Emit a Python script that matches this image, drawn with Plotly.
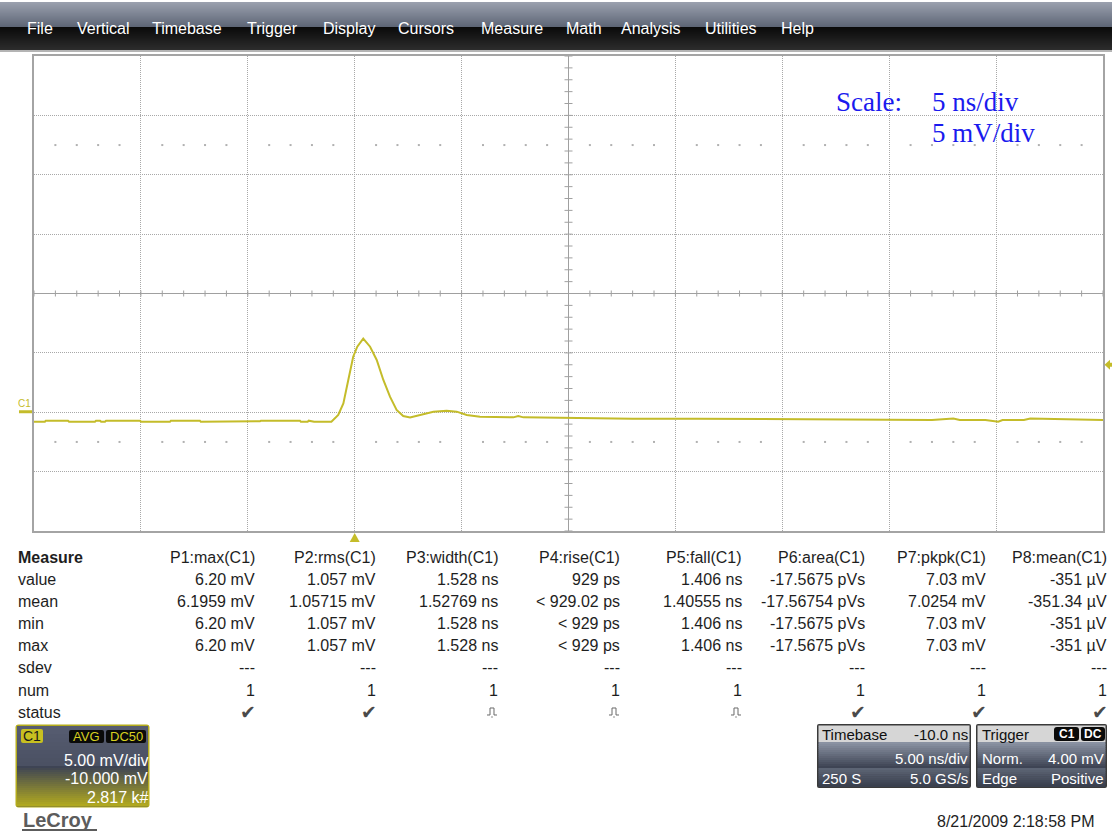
import plotly.graph_objects as go

# ---------------- waveform data (time in ns relative to trigger, amplitude in mV) ----------------
time_ns = [-15.0, -14.49, -14.45, -13.41, -13.36, -12.15, -12.10, -11.91, -11.86, -11.68, -11.63,
           -10.04, -9.99, -8.64, -8.60, -7.24, -7.20, -5.83, -5.79, -4.43, -4.39, -2.56, -2.52,
           -2.20, -2.15, -1.90, -1.50, -1.09, -0.77, -0.53, -0.30, -0.07, 0.12, 0.40, 0.72,
           1.03, 1.34, 1.65, 1.96, 2.27, 2.59, 3.05, 3.68, 4.30, 4.77, 5.24, 5.86, 7.42, 7.65,
           7.89, 10.54, 13.0, 16.0, 19.0, 22.0, 25.0, 27.0, 28.0, 28.3, 29.5, 30.1, 30.3,
           31.3, 31.6, 34.0, 35.0]
volt_mv = [-0.80, -0.80, -0.71, -0.71, -0.80, -0.80, -0.71, -0.71, -0.80, -0.80, -0.71,
           -0.71, -0.80, -0.80, -0.71, -0.71, -0.80, -0.80, -0.76, -0.76, -0.71, -0.71, -0.80,
           -0.80, -0.71, -0.80, -0.80, -0.80, -0.23, 0.75, 2.72, 4.68, 5.52, 6.20, 5.52,
           4.40, 2.72, 1.31, 0.19, -0.32, -0.43, -0.23, 0.05, 0.13, 0.05, -0.23, -0.37, -0.43, -0.32,
           -0.43, -0.51, -0.55, -0.55, -0.58, -0.60, -0.62, -0.65, -0.52, -0.65, -0.65, -0.80,
           -0.65, -0.65, -0.52, -0.65, -0.65]

# ---------------- screen scales ----------------
ns_per_div = 5.0
mv_per_div = 5.0
x_range = [-15.0, 35.0]      # 10 divisions
y_range = [-10.0, 30.0]      # 8 divisions, 0 V two divisions below centre
trigger_level_mv = 4.0

# ---------------- menu / table / status text ----------------
menu_items = ["File", "Vertical", "Timebase", "Trigger", "Display", "Cursors", "Measure",
              "Math", "Analysis", "Utilities", "Help"]
menu_x = [25, 75, 150, 245, 321, 396, 479, 564, 619, 703, 779]

measure_names = ["P1:max(C1)", "P2:rms(C1)", "P3:width(C1)", "P4:rise(C1)", "P5:fall(C1)",
                 "P6:area(C1)", "P7:pkpk(C1)", "P8:mean(C1)"]
row_names = ["value", "mean", "min", "max", "sdev", "num", "status"]
meas_value = ["6.20 mV", "1.057 mV", "1.528 ns", "929 ps", "1.406 ns", "-17.5675 pVs", "7.03 mV", "-351 µV"]
meas_mean = ["6.1959 mV", "1.05715 mV", "1.52769 ns", "< 929.02 ps", "1.40555 ns", "-17.56754 pVs",
             "7.0254 mV", "-351.34 µV"]
meas_min = ["6.20 mV", "1.057 mV", "1.528 ns", "< 929 ps", "1.406 ns", "-17.5675 pVs", "7.03 mV", "-351 µV"]
meas_max = ["6.20 mV", "1.057 mV", "1.528 ns", "< 929 ps", "1.406 ns", "-17.5675 pVs", "7.03 mV", "-351 µV"]
meas_sdev = ["---"] * 8
meas_num = ["1"] * 8
meas_status = ["ok", "ok", "pulse", "pulse", "pulse", "ok", "ok", "ok"]

scale_lines = ["Scale:", "5 ns/div", "5 mV/div"]
date_text = "8/21/2009 2:18:58 PM"

W, H = 1112, 834
TRACE = "#c4bc2a"
GRID = "#a8a8a8"
AXIS = "#a0a0a0"
TEXT = "#1e1e1e"


def X(px):
    return px / W


def Y(py):
    return 1 - py / H


def hexrgb(c):
    c = c.lstrip("#")
    return [int(c[i:i + 2], 16) for i in (0, 2, 4)]


def mix(c0, c1, f):
    a, b = hexrgb(c0), hexrgb(c1)
    return "#%02x%02x%02x" % tuple(round(a[i] + (b[i] - a[i]) * f) for i in range(3))


shapes = []
annotations = []


def rect(x0, y0, x1, y1, fill, line=None, lw=0):
    shapes.append(dict(type="rect", xref="paper", yref="paper", x0=X(x0), x1=X(x1), y0=Y(y1), y1=Y(y0),
                       fillcolor=fill, line=dict(color=line or fill, width=lw), layer="above"))


def gradient(x0, x1, y0, y1, c0, c1, steps=None):
    steps = steps or max(1, int(round(y1 - y0)))
    h = (y1 - y0) / steps
    for i in range(steps):
        f = i / max(1, steps - 1)
        rect(x0, y0 + i * h, x1, y0 + (i + 1) * h + 0.6, mix(c0, c1, f))


def rrect_path(x0, y0, x1, y1, r):
    pts = [("M", x0 + r, y0), ("L", x1 - r, y0), ("Q", x1, y0, x1, y0 + r), ("L", x1, y1 - r),
           ("Q", x1, y1, x1 - r, y1), ("L", x0 + r, y1), ("Q", x0, y1, x0, y1 - r), ("L", x0, y0 + r),
           ("Q", x0, y0, x0 + r, y0)]
    out = []
    for p in pts:
        if p[0] == "Q":
            out.append("Q%.5f,%.5f %.5f,%.5f" % (X(p[1]), Y(p[2]), X(p[3]), Y(p[4])))
        else:
            out.append("%s%.5f,%.5f" % (p[0], X(p[1]), Y(p[2])))
    return " ".join(out) + " Z"


def rrect(x0, y0, x1, y1, r, fill, line=None, lw=0):
    shapes.append(dict(type="path", xref="paper", yref="paper", path=rrect_path(x0, y0, x1, y1, r),
                       fillcolor=fill, line=dict(color=line or fill, width=lw), layer="above"))


def poly(points, fill, line=None, lw=0):
    path = "M" + " L".join("%.5f,%.5f" % (X(a), Y(b)) for a, b in points) + " Z"
    shapes.append(dict(type="path", xref="paper", yref="paper", path=path, fillcolor=fill,
                       line=dict(color=line or fill, width=lw), layer="above"))


def text(x, y, s, size=16, color=TEXT, anchor="left", family="Liberation Sans, Arial, sans-serif",
         bold=False):
    annotations.append(dict(xref="paper", yref="paper", x=X(x), y=Y(y), text=("<b>%s</b>" % s) if bold else s,
                            showarrow=False, xanchor=anchor, yanchor="middle",
                            font=dict(size=size, color=color, family=family)))


# ---------------- menu bar ----------------
gradient(0, W, 2, 27, "#9aa0ae", "#5e6676")
gradient(0, W, 27, 50, "#0a0a0a", "#2c2c2c")
rect(0, 50, W, 52, "#b4b4b4")
for name, mx in zip(menu_items, menu_x):
    text(mx, 28, name, size=16, color="#ffffff")

# ---------------- graticule extras ----------------
x_center = (x_range[0] + x_range[1]) / 2
y_center = (y_range[0] + y_range[1]) / 2
px_per_ns = (1103 - 34) / (x_range[1] - x_range[0])
px_per_mv = (531 - 56) / (y_range[1] - y_range[0])

tick_x, tick_y = [], []
t = x_range[0]
while t <= x_range[1] + 1e-9:
    tick_x += [t, t, None]
    tick_y += [y_center - 3 / px_per_mv, y_center + 3 / px_per_mv, None]
    t += ns_per_div / 5
v = y_range[0]
while v <= y_range[1] + 1e-9:
    tick_x += [x_center - 4 / px_per_ns, x_center + 4 / px_per_ns, None]
    tick_y += [v, v, None]
    v += mv_per_div / 5
tick_x += [x_range[0], x_range[1], None, x_center, x_center]
tick_y += [y_center, y_center, None, y_range[0], y_range[1]]

dot_x, dot_y = [], []
for k in range(1, 50):
    if k % 5:
        for yy in (y_center + 2.5 * mv_per_div, y_center - 2.5 * mv_per_div):
            dot_x.append(x_range[0] + k * ns_per_div / 5)
            dot_y.append(yy)

fig = go.Figure()
fig.add_trace(go.Scatter(x=tick_x, y=tick_y, mode="lines", line=dict(color=AXIS, width=1),
                         hoverinfo="skip", showlegend=False))
fig.add_trace(go.Scatter(x=dot_x, y=dot_y, mode="markers",
                         marker=dict(symbol="square", size=2, color="#b0b0b0", line=dict(width=0)),
                         hoverinfo="skip", showlegend=False))
fig.add_trace(go.Scatter(x=time_ns, y=volt_mv, mode="lines", line=dict(color=TRACE, width=2),
                         name="C1", showlegend=False))

# ---------------- screen markers ----------------
# trigger position (t = 0) under the grid
trig_px = 34 + (0 - x_range[0]) * px_per_ns
poly([(trig_px - 5, 542), (trig_px + 5, 542), (trig_px, 533)], TRACE)
# trigger level on the right edge
lvl_py = 531 - (trigger_level_mv - y_range[0]) * px_per_mv
poly([(1104.5, lvl_py), (1110, lvl_py - 5), (1110, lvl_py + 5)], TRACE)
rect(1108, lvl_py - 2, 1112, lvl_py + 2, TRACE)
# channel ground marker on the left edge
gnd_py = 531 - (0 - y_range[0]) * px_per_mv
rect(19, gnd_py - 2, 32, gnd_py + 1, TRACE)
text(16, gnd_py - 9, "C1", size=10, color=TRACE)

# ---------------- scale note ----------------
serif = "Liberation Serif, Times New Roman, serif"
text(834, 102, scale_lines[0], size=27, color="#1a1aee", family=serif)
text(930, 102, scale_lines[1], size=27, color="#1a1aee", family=serif)
text(930, 133, scale_lines[2], size=27, color="#1a1aee", family=serif)

# ---------------- measurement table ----------------
col_right = [257, 378, 500, 622, 744, 867, 988, 1109]
row_y = [557, 579, 601, 623, 645, 667, 690, 712]
text(16, row_y[0], "Measure", size=16, bold=True)
for i, r in enumerate(row_names):
    text(16, row_y[i + 1], r, size=16)
rows = [meas_value, meas_mean, meas_min, meas_max, meas_sdev, meas_num]
for c, xr in enumerate(col_right):
    text(xr, row_y[0], measure_names[c], size=16, anchor="right")
    for r, vals in enumerate(rows):
        text(xr, row_y[r + 1], vals[c], size=16, anchor="right")
    ys = row_y[7]
    if meas_status[c] == "ok":
        text(xr + 1, ys, "✔", size=19, color="#4a4a4a", anchor="right",
             family="DejaVu Sans, sans-serif")
    else:
        cx = xr - 8
        shapes.append(dict(type="path", xref="paper", yref="paper", layer="above",
                           path="M%.5f,%.5f L%.5f,%.5f L%.5f,%.5f L%.5f,%.5f L%.5f,%.5f L%.5f,%.5f" % (
                               X(cx - 5), Y(ys + 3), X(cx - 2), Y(ys + 3), X(cx - 2), Y(ys - 4),
                               X(cx + 2), Y(ys - 4), X(cx + 2), Y(ys + 3), X(cx + 5), Y(ys + 3)),
                           line=dict(color="#6a6a6a", width=1)))
        shapes.append(dict(type="line", xref="paper", yref="paper", layer="above",
                           x0=X(cx - 1), x1=X(cx + 1), y0=Y(ys + 5), y1=Y(ys + 5),
                           line=dict(color="#909090", width=1)))

# ---------------- channel descriptor box ----------------
rrect(15.5, 724.5, 149.5, 807.5, 3, "#b4ac1c")
gradient(17, 148, 726, 806, "#565c70", "#3e4454", 20)
gradient(17, 148, 766, 806, "#3e4454", "#b0a820", 20)
rrect(21, 729, 43, 743, 2, "#c8c020")
text(32, 736, "C1", size=14, color="#1a1a1a", anchor="center")
rrect(69, 730, 104, 743, 2, "#0a0a0a")
text(86.5, 736.5, "AVG", size=13, color="#d8d020", anchor="center")
rrect(106, 730, 146, 743, 2, "#0a0a0a")
text(126, 736.5, "DC50", size=13, color="#d8d020", anchor="center")
text(150, 760, "5.00 mV/div", size=16, color="#ffffff", anchor="right")
text(150, 778, "-10.000 mV", size=16, color="#ffffff", anchor="right")
text(150, 797, "2.817 k#", size=16, color="#ffffff", anchor="right")

# LeCroy logo
text(21, 820, "LeCroy", size=20, color="#5c5c5c", bold=True)
rect(22, 829, 97, 831, "#5c5c5c")

# ---------------- timebase / trigger boxes ----------------
for bx0, bx1 in ((817, 971), (976, 1107)):
    rrect(bx0, 724, bx1, 788, 2, "#3a3a3a")
    rect(bx0 + 1.5, 725.5, bx1 - 1.5, 742, "#d6d6d6")
    gradient(bx0 + 1.5, bx1 - 1.5, 742, 768, "#8a92a2", "#3e4454", 13)
    gradient(bx0 + 1.5, bx1 - 1.5, 768, 786.5, "#5c6474", "#3a404e", 9)

text(820, 734, "Timebase", size=15, color="#101010")
text(970, 734, "-10.0 ns", size=15, color="#101010", anchor="right")
text(970, 758, "5.00 ns/div", size=15, color="#ffffff", anchor="right")
text(820, 778, "250 S", size=15, color="#ffffff")
text(970, 778, "5.0 GS/s", size=15, color="#ffffff", anchor="right")

text(980, 734, "Trigger", size=15, color="#101010")
rrect(1054, 727, 1079, 741, 3, "#0a0a0a")
text(1066.5, 734, "C1", size=12, color="#ffffff", anchor="center", bold=True)
rrect(1081, 727, 1105, 741, 3, "#0a0a0a")
text(1093, 734, "DC", size=12, color="#ffffff", anchor="center", bold=True)
text(980, 758, "Norm.", size=15, color="#ffffff")
text(1106, 758, "4.00 mV", size=15, color="#ffffff", anchor="right")
text(980, 778, "Edge", size=15, color="#ffffff")
text(1106, 778, "Positive", size=15, color="#ffffff", anchor="right")

text(1096, 821, date_text, size=16, color=TEXT, anchor="right")

fig.update_layout(
    width=W, height=H, margin=dict(l=0, r=0, t=0, b=0),
    paper_bgcolor="#ffffff", plot_bgcolor="#ffffff",
    xaxis=dict(domain=[X(34), X(1103)], range=x_range, dtick=ns_per_div, tick0=x_range[0],
               showgrid=True, gridcolor=GRID, griddash="1px,1px", gridwidth=1,
               showticklabels=False, ticks="", zeroline=False,
               showline=True, linecolor="#a4a4a4", linewidth=2, mirror=True, fixedrange=True),
    yaxis=dict(domain=[Y(531), Y(56)], range=y_range, dtick=mv_per_div, tick0=y_range[0],
               showgrid=True, gridcolor=GRID, griddash="1px,1px", gridwidth=1,
               showticklabels=False, ticks="", zeroline=False,
               showline=True, linecolor="#a4a4a4", linewidth=2, mirror=True, fixedrange=True),
    shapes=shapes, annotations=annotations, showlegend=False,
)

fig.write_html("out.html")
